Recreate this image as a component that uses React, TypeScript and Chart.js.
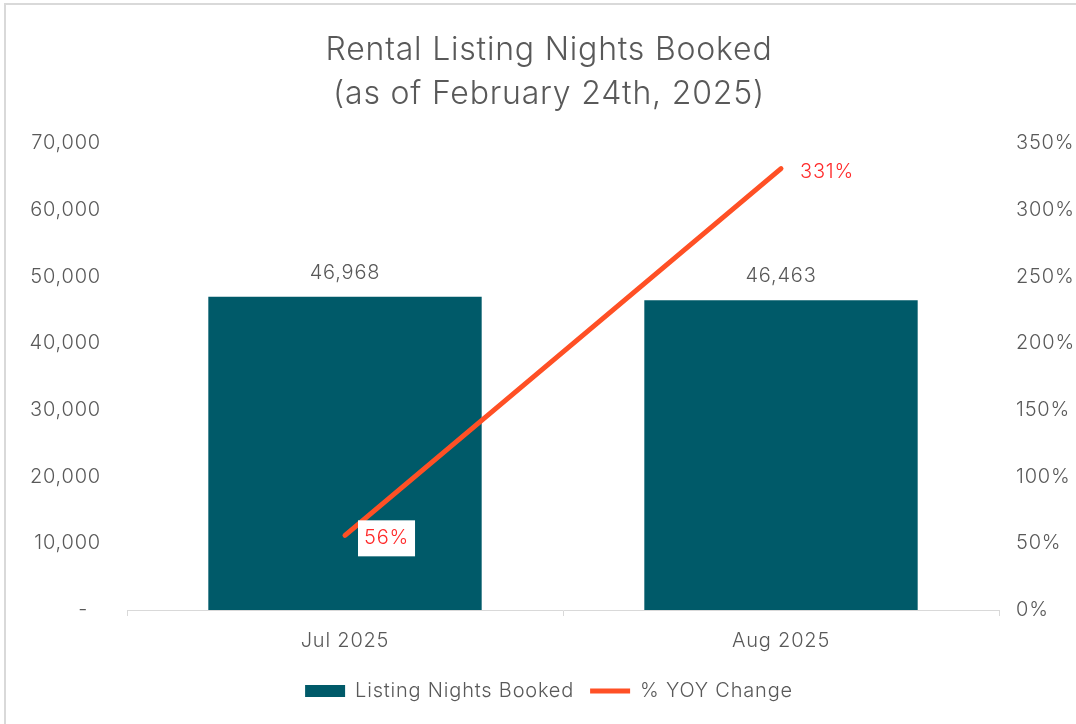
import React, { useEffect, useRef } from 'react';
import { Chart, registerables } from 'chart.js';

Chart.register(...registerables);

const FONT = '"Inter", "Lato", sans-serif';
const GRAY = '#595959';
const SPACING = '0.8px';

const chartTitle = ['Rental Listing Nights Booked', '(as of February 24th, 2025)'];
const categories = ['Jul 2025', 'Aug 2025'];
const nightsBooked = [46968, 46463];
const yoyChange = [56, 331];
const leftTickLabels = ['-  ', '10,000', '20,000', '30,000', '40,000', '50,000', '60,000', '70,000'];
const rightTickLabels = ['0%', '50%', '100%', '150%', '200%', '250%', '300%', '350%'];
const seriesNames = ['Listing Nights Booked', '% YOY Change'];

const spacingPlugin = {
  id: 'letterSpacing',
  beforeInit(chart: any) {
    chart.ctx.letterSpacing = SPACING;
  },
  beforeLayout(chart: any) {
    chart.ctx.letterSpacing = SPACING;
  },
  beforeDraw(chart: any) {
    chart.ctx.letterSpacing = SPACING;
  },
};

const valueLabels = {
  id: 'valueLabels',
  afterDatasetsDraw(chart: any) {
    const ctx = chart.ctx;
    ctx.save();
    ctx.letterSpacing = SPACING;
    ctx.font = `300 20px ${FONT}`;
    ctx.textBaseline = 'middle';
    const barMeta = chart.getDatasetMeta(0);
    barMeta.data.forEach((el: any, i: number) => {
      ctx.fillStyle = GRAY;
      ctx.textAlign = 'center';
      ctx.fillText(nightsBooked[i].toLocaleString('en-US'), el.x, el.y - 24);
    });
    const lineMeta = chart.getDatasetMeta(1);
    lineMeta.data.forEach((el: any, i: number) => {
      const text = yoyChange[i] + '%';
      const w = ctx.measureText(text).width;
      const tx = el.x + 19;
      const ty = el.y + 3;
      ctx.fillStyle = '#ffffff';
      ctx.fillRect(tx - 6, ty - 18, w + 12, 36);
      ctx.fillStyle = '#FF2A2A';
      ctx.textAlign = 'left';
      ctx.fillText(text, tx, ty);
    });
    ctx.restore();
  },
};

export default function App() {
  const canvasRef = useRef<HTMLCanvasElement>(null);

  useEffect(() => {
    document.body.style.margin = '0';
    const canvas = canvasRef.current;
    if (!canvas) return;
    const chart = new Chart(canvas, {
      type: 'bar',
      data: {
        labels: categories,
        datasets: [
          {
            type: 'bar',
            label: seriesNames[0],
            data: nightsBooked,
            backgroundColor: '#005A69',
            borderWidth: 0,
            yAxisID: 'y',
            order: 1,
            categoryPercentage: 1,
            barPercentage: 0.627,
            pointStyle: 'rect',
          } as any,
          {
            type: 'line',
            label: seriesNames[1],
            data: yoyChange,
            borderColor: '#FF5025',
            backgroundColor: '#FF5025',
            borderWidth: 5,
            borderCapStyle: 'round',
            pointRadius: 0,
            pointHoverRadius: 0,
            pointStyle: 'line',
            yAxisID: 'y1',
            order: 0,
          } as any,
        ],
      },
      options: {
        responsive: false,
        animation: false,
        layout: { padding: { top: 20, left: 22, right: 0, bottom: 13 } },
        plugins: {
          title: {
            display: true,
            text: chartTitle,
            color: GRAY,
            font: { family: FONT, size: 32, weight: '300' as any, lineHeight: 1.38 },
            padding: { top: 8, bottom: 27 },
          },
          legend: {
            position: 'bottom',
            labels: {
              color: GRAY,
              font: { family: FONT, size: 20, weight: '300' as any },
              usePointStyle: true,
              pointStyleWidth: 40,
              boxHeight: 12,
              padding: 16,
              sort: (a: any, b: any) => a.datasetIndex - b.datasetIndex,
            },
          },
          tooltip: { enabled: false },
        },
        scales: {
          x: {
            offset: true,
            grid: {
              display: true,
              drawOnChartArea: false,
              drawTicks: true,
              tickLength: 6,
              color: '#D9D9D9',
              offset: true,
            },
            border: { display: true, color: '#D9D9D9', width: 1 },
            ticks: {
              color: GRAY,
              font: { family: FONT, size: 20, weight: '300' as any },
              padding: 13,
            },
            afterFit: (scale: any) => {
              scale.height = 55;
            },
          },
          y: {
            position: 'left',
            min: 0,
            max: 70000,
            grid: { display: false, drawTicks: false },
            border: { display: false },
            ticks: {
              stepSize: 10000,
              color: GRAY,
              padding: 26,
              font: { family: FONT, size: 20, weight: '300' as any },
              callback: (_v: any, i: number) => leftTickLabels[i],
            },
            afterFit: (scale: any) => {
              scale.width = 105;
            },
          },
          y1: {
            position: 'right',
            min: 0,
            max: 350,
            grid: { display: false, drawTicks: false },
            border: { display: false },
            ticks: {
              stepSize: 50,
              color: GRAY,
              padding: 17,
              font: { family: FONT, size: 20, weight: '300' as any },
              callback: (_v: any, i: number) => rightTickLabels[i],
            },
            afterFit: (scale: any) => {
              scale.width = 77;
            },
          },
        },
      },
      plugins: [spacingPlugin, valueLabels],
    });
    return () => chart.destroy();
  }, []);

  return (
    <div style={{ position: 'relative', width: 1076, height: 724, overflow: 'hidden', background: '#fff' }}>
      <div
        style={{
          position: 'absolute',
          left: 4,
          top: 3,
          width: 1100,
          height: 740,
          border: '2px solid #D9D9D9',
          boxSizing: 'border-box',
        }}
      />
      <canvas ref={canvasRef} width={1076} height={724} style={{ position: 'absolute', left: 0, top: 0 }} />
    </div>
  );
}
